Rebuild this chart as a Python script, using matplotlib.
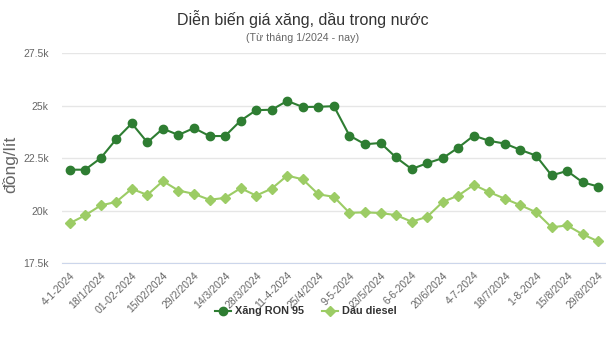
import matplotlib
matplotlib.use("Agg")
import matplotlib.pyplot as plt
from matplotlib.ticker import FuncFormatter

plt.rcParams['font.family'] = ['Liberation Sans', 'DejaVu Sans']

# weekly price adjustments, one label every second week
tick_labels = ['4-1-2024', '18/1/2024', '01-02-2024', '15/02/2024', '29/2/2024',
               '14/3/2024', '28/3/2024', '11-4-2024', '25/4/2024', '9-5-2024',
               '23/5/2024', '6-6-2024', '20/6/2024', '4-7-2024', '18/7/2024',
               '1-8-2024', '15/8/2024', '29/8/2024']

ron95 = [21950, 21950, 22500, 23400, 24150, 23250, 23900, 23600, 23930, 23550,
         23550, 24280, 24780, 24800, 25220, 24930, 24940, 24970, 23570, 23160,
         23220, 22530, 21980, 22260, 22500, 23000, 23570, 23320, 23190, 22890,
         22620, 21680, 21890, 21350, 21150]
diesel = [19400, 19780, 20250, 20420, 21040, 20750, 21410, 20960, 20800, 20520,
          20610, 21070, 20720, 21050, 21670, 21490, 20780, 20660, 19900, 19920,
          19890, 19790, 19480, 19710, 20420, 20720, 21230, 20880, 20570, 20260,
          19930, 19210, 19300, 18880, 18540]

x = range(len(ron95))

fig = plt.figure(figsize=(6.06, 3.46), dpi=100)
ax = fig.add_axes([0.102, 0.239, 0.898, 0.608])

ax.plot(x, ron95, color='#2e7d32', lw=1.5, marker='o', ms=6, label='Xăng RON 95', zorder=3)
ax.plot(x, diesel, color='#9ccc65', lw=1.5, marker='D', ms=5, label='Dầu diesel', zorder=3)

ax.set_xlim(-0.5, len(ron95) - 0.5)
ax.set_ylim(17500, 27500)
ax.set_yticks([17500, 20000, 22500, 25000, 27500])
ax.yaxis.set_major_formatter(FuncFormatter(lambda v, p: f'{v / 1000:g}k'))
ax.grid(axis='y', color='#e6e6e6', lw=1)
ax.set_axisbelow(True)

ax.set_xticks(range(0, len(ron95), 2))
ax.set_xticklabels(tick_labels, rotation=45, ha='right', rotation_mode='anchor')

for s in ['top', 'right', 'left']:
    ax.spines[s].set_visible(False)
ax.spines['bottom'].set_color('#ccd6eb')
ax.tick_params(axis='both', length=0, colors='#666666', labelsize=7.5)
ax.tick_params(axis='y', pad=9.5)
ax.tick_params(axis='x', pad=5)

ax.set_ylabel('đồng/lít', color='#666666', fontsize=12.5)
ax.yaxis.set_label_coords(-0.08, 0.47)

fig.text(0.5, 0.945, 'Diễn biến giá xăng, dầu trong nước', ha='center', va='center',
         fontsize=11.5, color='#333333')
fig.text(0.5, 0.89, '(Từ tháng 1/2024 - nay)', ha='center', va='center',
         fontsize=7.7, color='#666666')

leg = fig.legend(loc='center', bbox_to_anchor=(0.505, 0.1), ncol=2, frameon=False,
                 prop={'weight': 'bold', 'size': 7.8}, handlelength=1.5,
                 handletextpad=0.4, columnspacing=1.6)
for t in leg.get_texts():
    t.set_color('#333333')

fig.savefig('out.png', dpi=100)
